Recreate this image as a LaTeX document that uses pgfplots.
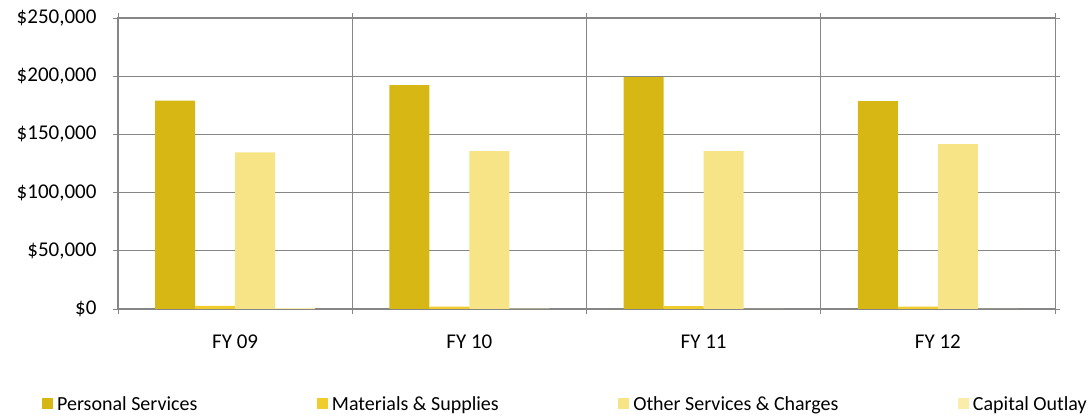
\documentclass[border=0pt]{standalone}
\usepackage{pgfplots}
\pgfplotsset{compat=1.18}
\usetikzlibrary{calc}
\usepackage{fontspec}
\setmainfont{Carlito}
\definecolor{cPS}{RGB}{214,183,20}
\definecolor{cMS}{RGB}{240,205,45}
\definecolor{cOS}{RGB}{246,228,134}
\definecolor{cCO}{RGB}{250,236,170}
\definecolor{gridc}{RGB}{134,134,134}
\begin{document}
\begin{tikzpicture}
\begin{axis}[
  name=ax,
  scale only axis,
  width=937pt, height=291pt,
  xmin=0, xmax=4, ymin=0, ymax=250000,
  ybar=0pt, bar width=0.171,
  xtick={0,1,2,3,4}, xticklabels={},
  extra x ticks={0.5,1.5,2.5,3.5},
  extra x tick labels={FY 09,FY 10,FY 11,FY 12},
  extra x tick style={major tick length=0pt, grid=none, xticklabel style={yshift=-22pt}},
  ytick={0,50000,100000,150000,200000,250000},
  scaled y ticks=false,
  yticklabel={\$\pgfmathprintnumber[assume math mode=true,fixed,1000 sep={,}]{\tick}},
  yticklabel style={xshift=-13pt},
  tick style={gridc, line width=0.8pt},
  tick align=outside, major tick length=5pt,
  xmajorgrids, ymajorgrids,
  major grid style={gridc, line width=0.8pt},
  axis line style={gridc, line width=1pt},
  tick label style={font=\fontsize{21pt}{25pt}\selectfont, black},
  legend columns=4,
  legend style={at={(rel axis cs:0,0)}, anchor=west, xshift=-76pt, yshift=-95pt,
    draw=none, fill=none, font=\fontsize{20pt}{24pt}\selectfont, inner sep=0pt,
    /tikz/every odd column/.append style={column sep=2pt},
    /tikz/every even column/.append style={column sep=117.5pt}},
  legend cell align=left,
  legend image code/.code={\fill[#1] (0pt,-5.5pt) rectangle (11pt,5.5pt);},
]
\addplot[fill=cPS, draw=none] coordinates {(0.5,179000) (1.5,192300) (2.5,199200) (3.5,178500)};
\addplot[fill=cMS, draw=none] coordinates {(0.5,2600) (1.5,2000) (2.5,2400) (3.5,2000)};
\addplot[fill=cOS, draw=none] coordinates {(0.5,134500) (1.5,135700) (2.5,135700) (3.5,141700)};
\addplot[fill=cCO, draw=none] coordinates {(0.5,800) (1.5,400) (2.5,0) (3.5,0)};
\addlegendentry{Personal Services}
\addlegendentry{Materials \& Supplies}
\addlegendentry{Other Services \& Charges}
\addlegendentry{Capital Outlay}
\end{axis}
\pgfresetboundingbox
\path[use as bounding box] ($(ax.south west)+(-118pt,-109pt)$) rectangle ($(ax.north east)+(35pt,18pt)$);
\end{tikzpicture}
\end{document}
